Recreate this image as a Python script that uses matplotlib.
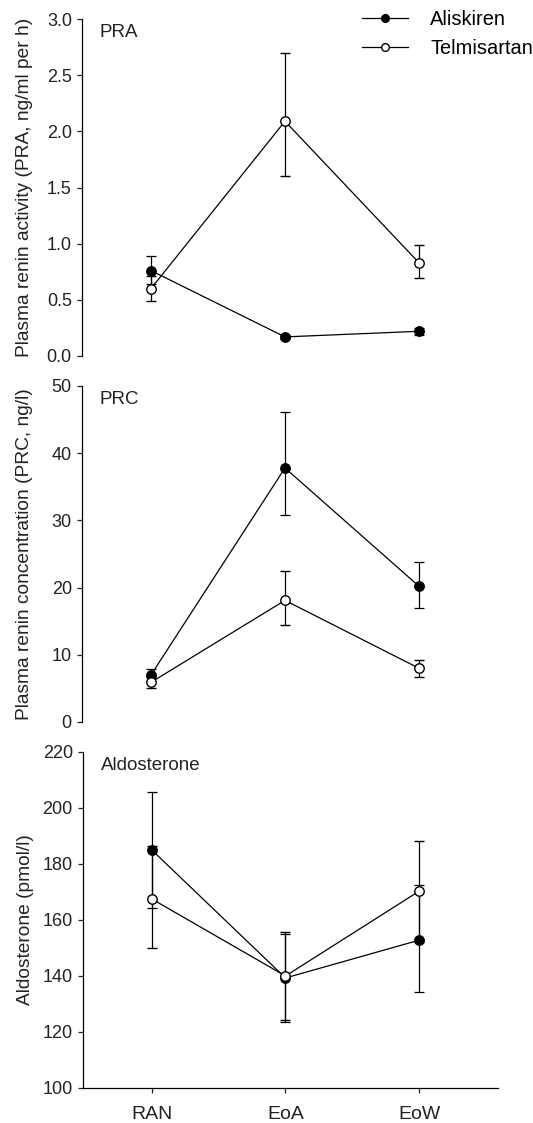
import matplotlib
matplotlib.use("Agg")
import matplotlib.pyplot as plt
from matplotlib.lines import Line2D

plt.rcParams['font.family'] = ['Liberation Sans', 'DejaVu Sans']

timepoints = ["RAN", "EoA", "EoW"]

pra_aliskiren = [0.76, 0.17, 0.22]
pra_aliskiren_lo = [0.12, 0.02, 0.03]
pra_aliskiren_hi = [0.13, 0.02, 0.03]
pra_telmisartan = [0.60, 2.09, 0.83]
pra_telmisartan_lo = [0.11, 0.49, 0.14]
pra_telmisartan_hi = [0.11, 0.61, 0.16]

prc_aliskiren = [7.0, 37.8, 20.2]
prc_aliskiren_lo = [0.9, 7.0, 3.2]
prc_aliskiren_hi = [0.9, 8.3, 3.6]
prc_telmisartan = [5.9, 18.1, 8.0]
prc_telmisartan_lo = [0.85, 3.6, 1.3]
prc_telmisartan_hi = [0.85, 4.3, 1.2]

aldo_aliskiren = [185.0, 139.3, 152.8]
aldo_aliskiren_lo = [20.8, 15.8, 18.6]
aldo_aliskiren_hi = [20.8, 15.8, 19.8]
aldo_telmisartan = [167.5, 140.0, 170.3]
aldo_telmisartan_lo = [17.5, 15.6, 18.0]
aldo_telmisartan_hi = [19.0, 15.6, 18.0]

panels = [
    ("PRA", "Plasma renin activity (PRA, ng/ml per h)", (0, 3.0), [0, 0.5, 1.0, 1.5, 2.0, 2.5, 3.0], "{:.1f}",
     pra_aliskiren, pra_aliskiren_lo, pra_aliskiren_hi, pra_telmisartan, pra_telmisartan_lo, pra_telmisartan_hi),
    ("PRC", "Plasma renin concentration (PRC, ng/l)", (0, 50), [0, 10, 20, 30, 40, 50], "{:.0f}",
     prc_aliskiren, prc_aliskiren_lo, prc_aliskiren_hi, prc_telmisartan, prc_telmisartan_lo, prc_telmisartan_hi),
    ("Aldosterone", "Aldosterone (pmol/l)", (100, 220), [100, 120, 140, 160, 180, 200, 220], "{:.0f}",
     aldo_aliskiren, aldo_aliskiren_lo, aldo_aliskiren_hi, aldo_telmisartan, aldo_telmisartan_lo, aldo_telmisartan_hi),
]

W, H = 533, 1123
fig = plt.figure(figsize=(W / 100, H / 100), dpi=100)

# pixel boxes: (left, top, right, bottom)
boxes = [(82, 19, 498, 356), (82, 386, 498, 722), (83, 752, 498, 1088)]

x = list(range(len(timepoints)))
for i, (box, p) in enumerate(zip(boxes, panels)):
    l, t, r, b = box
    ax = fig.add_axes([l / W, 1 - b / H, (r - l) / W, (b - t) / H])
    name, ylabel, ylim, yticks, fmt, a, alo, ahi, tm, tlo, thi = p
    ax.errorbar(x, a, yerr=[alo, ahi], color='black', lw=0.9, marker='o', ms=6.8,
                mfc='black', mec='black', capsize=3.4, elinewidth=0.9,
                capthick=0.9, zorder=3)
    ax.errorbar(x, tm, yerr=[tlo, thi], color='black', lw=0.9, marker='o', ms=6.8,
                mfc='white', mec='black', mew=1.0, capsize=3.4, elinewidth=0.9,
                capthick=0.9, zorder=4)
    ax.set_xlim(-0.515, 2.59)
    ax.set_ylim(*ylim)
    ax.set_yticks(yticks)
    ax.set_yticklabels([fmt.format(v) for v in yticks])
    ax.spines['top'].set_visible(False)
    ax.spines['right'].set_visible(False)
    ax.spines['left'].set_linewidth(0.9)
    ax.spines['bottom'].set_linewidth(0.9)
    ax.tick_params(axis='y', direction='out', length=3.8, width=0.9, labelsize=13, pad=3.5,
                   colors='#222222')
    if i < 2:
        ax.spines['bottom'].set_visible(False)
        ax.set_xticks([])
    else:
        ax.set_xticks(x)
        ax.set_xticklabels(timepoints)
        ax.tick_params(axis='x', direction='out', length=3.8, width=0.9, labelsize=14, pad=9,
                       colors='#222222')
    ax.set_ylabel(ylabel, fontsize=13.8, color='#222222')
    ax.yaxis.set_label_coords(-0.118, 0.5)
    ax.text(0.043, 0.985, name, transform=ax.transAxes, fontsize=13.5, va='top', ha='left',
            color='#222222')

handles = [Line2D([], [], color='black', lw=0.9, marker='o', ms=5.5, mfc='black', mec='black'),
           Line2D([], [], color='black', lw=0.9, marker='o', ms=5.5, mfc='white', mec='black')]
fig.legend(handles=handles, labels=['Aliskiren', 'Telmisartan'],
           loc='upper right', bbox_to_anchor=(1.034, 1.007), frameon=False,
           fontsize=14.4, handlelength=2.3, handletextpad=1.1, labelspacing=0.47)

fig.savefig("out.png", dpi=100)
